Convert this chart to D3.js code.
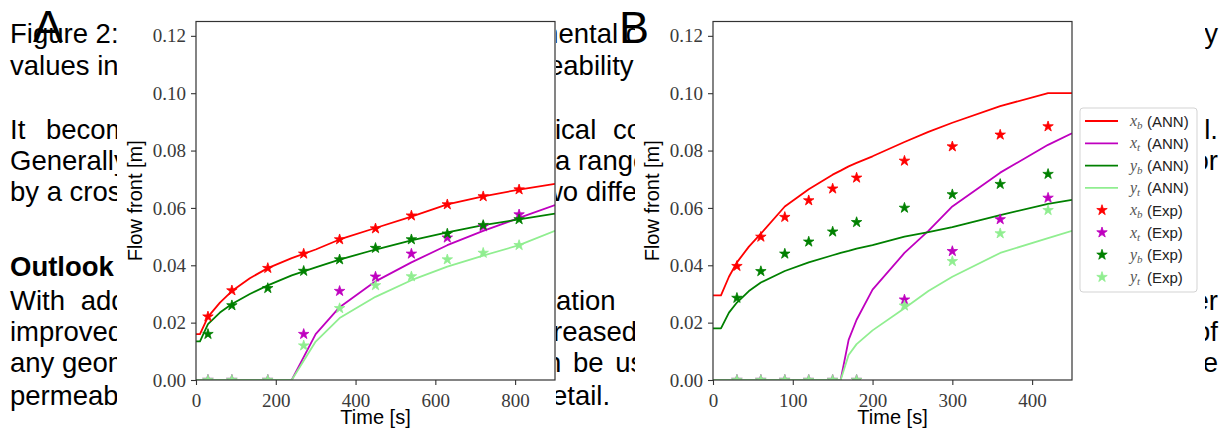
<!DOCTYPE html>
<html><head><meta charset="utf-8">
<script src="https://cdn.jsdelivr.net/npm/d3@7"></script>
<style>body{margin:0;background:#fff}svg{display:block}</style>
</head><body>
<svg id="c" width="1229" height="429"></svg>
<script>
// ---------- data ----------
const yTicks = [0, 0.02, 0.04, 0.06, 0.08, 0.10, 0.12];
const xTicksA = [0, 200, 400, 600, 800];
const xTicksB = [0, 100, 200, 300, 400];

// Panel A: ANN curves
const annTimeA = [0, 10, 30, 60, 90, 135, 180, 240, 300, 360, 450, 540, 630, 720, 810, 900];
const xbAnnA = [0.016, 0.016, 0.022, 0.027, 0.031, 0.0355, 0.039, 0.0425, 0.0455, 0.049, 0.053, 0.057, 0.0612, 0.064, 0.0664, 0.0684];
const xtAnnA = [0, 0, 0, 0, 0, 0, 0, 0, 0.016, 0.0254, 0.0344, 0.041, 0.047, 0.052, 0.0565, 0.061];
const ybAnnA = [0.0135, 0.0135, 0.0195, 0.0235, 0.0265, 0.030, 0.033, 0.0365, 0.0393, 0.042, 0.0455, 0.0487, 0.0515, 0.054, 0.056, 0.058];
const ytAnnA = [0, 0, 0, 0, 0, 0, 0, 0, 0.0134, 0.0216, 0.029, 0.0348, 0.0395, 0.0434, 0.047, 0.052];
// Panel A: experiments
const expTimeA = [30, 90, 180, 270, 360, 450, 540, 630, 720, 810];
const xbExpA = [0.0221, 0.0312, 0.039, 0.044, 0.049, 0.0528, 0.0573, 0.0612, 0.064, 0.0664];
const xtExpA = [0, 0, 0, 0.016, 0.031, 0.036, 0.044, 0.0496, 0.0535, 0.0577];
const ybExpA = [0.016, 0.026, 0.032, 0.038, 0.042, 0.046, 0.049, 0.051, 0.054, 0.056];
const ytExpA = [0, 0, 0, 0.012, 0.025, 0.033, 0.0361, 0.042, 0.0443, 0.047];

// Panel B: ANN curves
const annTimeB = [0, 10, 20, 30, 45, 60, 90, 120, 150, 160, 170, 180, 200, 240, 270, 300, 360, 420, 450];
const xbAnnB = [0.0295, 0.0295, 0.036, 0.041, 0.0465, 0.051, 0.0605, 0.0665, 0.0716, 0.073, 0.0745, 0.0757, 0.078, 0.083, 0.0865, 0.0897, 0.0955, 0.100, 0.100];
const xtAnnB = [0, 0, 0, 0, 0, 0, 0, 0, 0, 0, 0.014, 0.021, 0.0315, 0.0443, 0.052, 0.0605, 0.0723, 0.082, 0.086];
const ybAnnB = [0.018, 0.018, 0.0235, 0.027, 0.031, 0.034, 0.038, 0.041, 0.0435, 0.0443, 0.045, 0.0458, 0.047, 0.050, 0.0516, 0.0533, 0.0575, 0.0614, 0.0628];
const ytAnnB = [0, 0, 0, 0, 0, 0, 0, 0, 0, 0, 0.0087, 0.0125, 0.0173, 0.025, 0.031, 0.036, 0.0443, 0.0495, 0.052];
// Panel B: experiments
const expTimeB = [30, 60, 90, 120, 150, 180, 240, 300, 360, 420];
const xbExpB = [0.0397, 0.0499, 0.0568, 0.0626, 0.0667, 0.0705, 0.0764, 0.0814, 0.0855, 0.0884];
const xtExpB = [0, 0, 0, 0, 0, 0, 0.028, 0.0449, 0.056, 0.0635];
const ybExpB = [0.0286, 0.0379, 0.044, 0.0482, 0.0517, 0.055, 0.060, 0.0647, 0.0683, 0.0718];
const ytExpB = [0, 0, 0, 0, 0, 0, 0.0259, 0.0414, 0.0511, 0.0592];

const seriesNames = ["b", "t", "b", "t"];
const seriesVars = ["x", "x", "y", "y"];
const seriesColors = ["#ff0000", "#bf00bf", "#008000", "#90ee90"];

// background document text fragments
const textLeft = ["Figure 2: Compar", "values in the", "It becomes", "Generally", "by a cross", "Outlook", "With additional", "improved", "any geometry", "permeability"];
const textMid = ["mental d", "eability", "ical co", "a range", "wo diffe", "", "ation", "reased", "n be us", "etail."];
const textRight = ["y", "", "l.", "or", "", "", "er", "of", "e", ""];

// ---------- drawing ----------
const svg = d3.select("#c");
svg.append("rect").attr("width", 1229).attr("height", 429).attr("fill", "#fff");

const baselines = [43, 75, 139, 170, 201, 276, 310, 341, 372, 405];
const leftSpacing = [0, 0, 13, 0, 0, 0, 8, 0, 0, 0];
const midX = [535.5, 548, 555, 555, 543, 0, 556, 553, 546, 552];
const midSpacing = [0, 0, 9, 0, 0, 0, 0, 0, 4, 0];
const txt = svg.append("g").attr("font-family", "Liberation Sans, Arial, sans-serif").attr("font-size", 27.5).attr("fill", "#000");
textLeft.forEach((s, i) => {
  txt.append("text").attr("x", 10).attr("y", baselines[i]).attr("word-spacing", leftSpacing[i])
    .attr("font-weight", i === 5 ? "bold" : null).text(s);
});
textMid.forEach((s, i) => {
  if (!s) return;
  txt.append("text").attr("x", midX[i]).attr("y", baselines[i]).attr("word-spacing", midSpacing[i]).text(s);
});
textRight.forEach((s, i) => {
  if (!s) return;
  txt.append("text").attr("x", 1218).attr("y", baselines[i]).attr("text-anchor", "end").text(s);
});

// white figure boxes
svg.append("rect").attr("x", 117).attr("y", 19).attr("width", 556 - 117).attr("height", 429 - 19).attr("fill", "#fff");
svg.append("rect").attr("x", 635).attr("y", 20).attr("width", 1205 - 635).attr("height", 429 - 20).attr("fill", "#fff");

const star = d3.symbol().type(d3.symbolStar).size(34);

function panel(id, x0, x1, xmax, xTicks, annTime, ann, expTime, exp) {
  const y0 = 21.5, y1 = 380;
  const x = d3.scaleLinear().domain([0, xmax]).range([x0, x1]);
  const y = d3.scaleLinear().domain([0, 0.125]).range([y1, y0]);
  const g = svg.append("g");
  g.append("clipPath").attr("id", "clip" + id).append("rect")
    .attr("x", x0).attr("y", y0).attr("width", x1 - x0).attr("height", y1 - y0);
  const plot = g.append("g").attr("clip-path", `url(#clip${id})`);
  const line = d3.line().x(d => x(d[0])).y(d => y(d[1]));
  ann.forEach((vals, k) => {
    plot.append("path").datum(annTime.map((t, j) => [t, vals[j]]))
      .attr("d", line).attr("fill", "none").attr("stroke", seriesColors[k]).attr("stroke-width", 1.8)
      .attr("stroke-linejoin", "round");
  });
  exp.forEach((vals, k) => {
    plot.selectAll(null).data(expTime.map((t, j) => [t, vals[j]])).enter().append("path")
      .attr("d", star).attr("transform", d => `translate(${x(d[0])},${y(d[1])})`)
      .attr("fill", seriesColors[k]).attr("stroke", seriesColors[k]).attr("stroke-width", 0.8);
  });
  // axes
  const ax = g.append("g").attr("transform", `translate(0,${y1})`)
    .call(d3.axisBottom(x).tickValues(xTicks).tickSize(5).tickPadding(4).tickFormat(d3.format("d")));
  const ay = g.append("g").attr("transform", `translate(${x0},0)`)
    .call(d3.axisLeft(y).tickValues(yTicks).tickSize(5).tickPadding(5).tickFormat(d3.format(".2f")));
  [ax, ay].forEach(a => {
    a.select(".domain").remove();
    a.selectAll(".tick line").attr("stroke", "#333").attr("stroke-width", 1.1);
    a.selectAll(".tick text").attr("font-family", "Liberation Serif, Times New Roman, serif")
      .attr("font-size", 19).attr("fill", "#3a3a3a");
  });
  ax.selectAll(".tick text").attr("dy", "0.95em");
  g.append("rect").attr("x", x0).attr("y", y0).attr("width", x1 - x0).attr("height", y1 - y0)
    .attr("fill", "none").attr("stroke", "#333").attr("stroke-width", 1.2);
  g.append("text").attr("x", (x0 + x1) / 2).attr("y", 424).attr("text-anchor", "middle")
    .attr("font-family", "Liberation Sans, Arial, sans-serif").attr("font-size", 20).text("Time [s]");
  g.append("text").attr("transform", `translate(${x0 - 54},${(y0 + y1) / 2}) rotate(-90)`)
    .attr("text-anchor", "middle").attr("font-family", "Liberation Sans, Arial, sans-serif")
    .attr("font-size", 20).text("Flow front [m]");
}

panel("A", 196, 555, 900, xTicksA, annTimeA, [xbAnnA, xtAnnA, ybAnnA, ytAnnA], expTimeA, [xbExpA, xtExpA, ybExpA, ytExpA]);
panel("B", 713, 1072, 450, xTicksB, annTimeB, [xbAnnB, xtAnnB, ybAnnB, ytAnnB], expTimeB, [xbExpB, xtExpB, ybExpB, ytExpB]);

// legend
const lg = svg.append("g");
lg.append("rect").attr("x", 1080).attr("y", 108).attr("width", 117).attr("height", 184).attr("rx", 3)
  .attr("fill", "#fff").attr("stroke", "#d3d3d3").attr("stroke-width", 1);
const rows = [];
["ANN", "Exp"].forEach(kind => seriesColors.forEach((c, k) => rows.push({kind, k, c})));
rows.forEach((r, i) => {
  const cy = 121 + i * 22.3;
  if (r.kind === "ANN") {
    lg.append("line").attr("x1", 1085).attr("x2", 1118).attr("y1", cy).attr("y2", cy)
      .attr("stroke", r.c).attr("stroke-width", 1.8);
  } else {
    lg.append("path").attr("d", star).attr("transform", `translate(1102,${cy})`)
      .attr("fill", r.c).attr("stroke", r.c).attr("stroke-width", 0.8);
  }
  const t = lg.append("text").attr("x", 1130).attr("y", cy + 5).attr("fill", "#555")
    .attr("font-family", "Liberation Serif, Times New Roman, serif");
  t.append("tspan").attr("font-style", "italic").attr("font-size", 16).text(seriesVars[r.k]);
  t.append("tspan").attr("font-style", "italic").attr("font-size", 11).attr("dy", 3).text(seriesNames[r.k]);
  lg.append("text").attr("x", 1147).attr("y", cy + 5.5).attr("fill", "#222")
    .attr("font-family", "Liberation Sans, Arial, sans-serif").attr("font-size", 15).text(`(${r.kind})`);
});

// panel letters
svg.append("text").attr("x", 33).attr("y", 42).attr("font-family", "Liberation Sans, Arial, sans-serif").attr("font-size", 45).text("A");
svg.append("text").attr("x", 619).attr("y", 43).attr("font-family", "Liberation Sans, Arial, sans-serif").attr("font-size", 45).text("B");
</script>
</body></html>
